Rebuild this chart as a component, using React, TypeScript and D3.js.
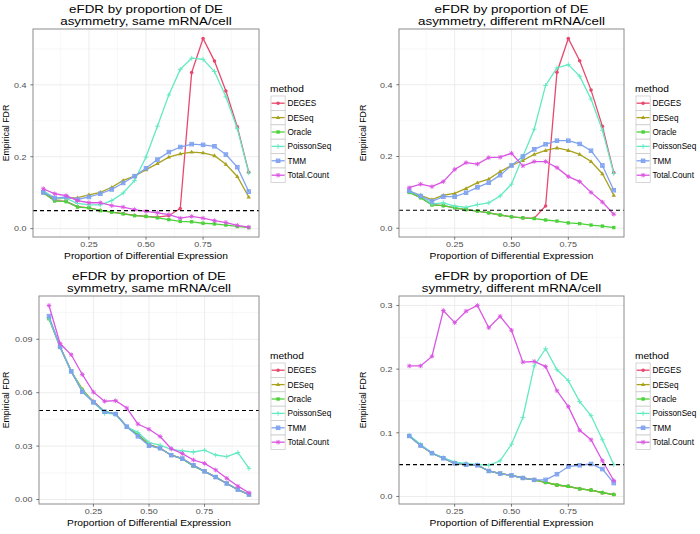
import React from "react";
import * as d3 from "d3";

const XS = [0.05, 0.1, 0.15, 0.2, 0.25, 0.3, 0.35, 0.4, 0.45, 0.5, 0.55, 0.6, 0.65, 0.7, 0.75, 0.8, 0.85, 0.9, 0.95];
const METHODS = ["DEGES", "DESeq", "Oracle", "PoissonSeq", "TMM", "Total.Count"];
const COLORS = ["#E8486E", "#A9A21F", "#4CD23A", "#62EAC2", "#7FA2F0", "#DA55E3"];
const SHAPES = ["circle", "triangle", "square", "plus", "squarecross", "asterisk"];
const X_TICKS = [0.25, 0.5, 0.75];
const X_MINOR = [0.125, 0.375, 0.625, 0.875];
const THRESHOLD = 0.05;

// Panel 1: asymmetry, same mRNA/cell
const p1_DEGES = [0.1, 0.078, 0.076, 0.061, 0.058, 0.051, 0.046, 0.042, 0.037, 0.034, 0.032, 0.036, 0.056, 0.434, 0.529, 0.466, 0.383, 0.283, 0.157];
const p1_DESeq = [0.103, 0.082, 0.085, 0.086, 0.094, 0.101, 0.115, 0.134, 0.146, 0.164, 0.181, 0.199, 0.208, 0.213, 0.211, 0.203, 0.179, 0.145, 0.088];
const p1_Oracle = [0.1, 0.077, 0.075, 0.06, 0.058, 0.05, 0.046, 0.041, 0.036, 0.034, 0.03, 0.025, 0.02, 0.019, 0.015, 0.013, 0.01, 0.006, 0.003];
const p1_PoissonSeq = [0.105, 0.085, 0.084, 0.07, 0.066, 0.066, 0.078, 0.099, 0.134, 0.199, 0.285, 0.372, 0.443, 0.474, 0.471, 0.437, 0.367, 0.278, 0.155];
const p1_TMM = [0.101, 0.085, 0.088, 0.081, 0.088, 0.097, 0.109, 0.127, 0.146, 0.168, 0.192, 0.213, 0.227, 0.235, 0.233, 0.229, 0.206, 0.171, 0.103];
const p1_Total = [0.111, 0.097, 0.092, 0.078, 0.072, 0.072, 0.064, 0.06, 0.053, 0.048, 0.044, 0.039, 0.029, 0.034, 0.029, 0.022, 0.017, 0.009, 0.004];

// Panel 2: asymmetry, different mRNA/cell
const p2_DEGES = [0.1, 0.086, 0.066, 0.063, 0.057, 0.052, 0.048, 0.043, 0.037, 0.032, 0.029, 0.028, 0.062, 0.435, 0.529, 0.467, 0.385, 0.284, 0.155];
const p2_DESeq = [0.103, 0.092, 0.08, 0.092, 0.097, 0.111, 0.127, 0.137, 0.158, 0.175, 0.189, 0.206, 0.217, 0.224, 0.217, 0.206, 0.186, 0.152, 0.092];
const p2_Oracle = [0.1, 0.085, 0.065, 0.063, 0.057, 0.052, 0.048, 0.043, 0.037, 0.032, 0.029, 0.027, 0.023, 0.02, 0.015, 0.013, 0.009, 0.006, 0.002];
const p2_PoissonSeq = [0.103, 0.09, 0.068, 0.071, 0.062, 0.058, 0.066, 0.071, 0.09, 0.123, 0.2, 0.276, 0.398, 0.447, 0.456, 0.424, 0.36, 0.273, 0.153];
const p2_TMM = [0.105, 0.09, 0.075, 0.088, 0.088, 0.099, 0.114, 0.127, 0.148, 0.175, 0.2, 0.22, 0.234, 0.244, 0.244, 0.235, 0.216, 0.175, 0.106];
const p2_Total = [0.113, 0.123, 0.116, 0.13, 0.164, 0.183, 0.179, 0.197, 0.198, 0.209, 0.174, 0.186, 0.186, 0.169, 0.144, 0.13, 0.1, 0.073, 0.039];

// Panel 3: symmetry, same mRNA/cell
const p3_DEGES = [0.102, 0.0857, 0.072, 0.0608, 0.0552, 0.0493, 0.048, 0.0409, 0.0365, 0.031, 0.0288, 0.0249, 0.023, 0.0192, 0.0158, 0.0126, 0.009, 0.0056, 0.0028];
const p3_DESeq = [0.102, 0.0857, 0.072, 0.062, 0.0546, 0.0493, 0.048, 0.0409, 0.0362, 0.0305, 0.0288, 0.0249, 0.023, 0.019, 0.0158, 0.0126, 0.009, 0.0056, 0.0028];
const p3_Oracle = [0.1015, 0.0857, 0.072, 0.0615, 0.0546, 0.0495, 0.048, 0.0409, 0.0362, 0.0305, 0.0288, 0.0249, 0.0228, 0.0188, 0.0158, 0.0126, 0.009, 0.0056, 0.0028];
const p3_PoissonSeq = [0.102, 0.0857, 0.072, 0.061, 0.0546, 0.0485, 0.048, 0.0409, 0.0377, 0.032, 0.0305, 0.0282, 0.0273, 0.0267, 0.0277, 0.025, 0.0241, 0.0264, 0.0175];
const p3_TMM = [0.103, 0.0857, 0.072, 0.0605, 0.0546, 0.0493, 0.048, 0.0409, 0.0355, 0.0302, 0.0288, 0.0249, 0.023, 0.0192, 0.0158, 0.0126, 0.009, 0.0056, 0.0028];
const p3_Total = [0.109, 0.0876, 0.0813, 0.0702, 0.0603, 0.0552, 0.0555, 0.0514, 0.0424, 0.0395, 0.0354, 0.0286, 0.0258, 0.0222, 0.0203, 0.0166, 0.0119, 0.0075, 0.0038];

// Panel 4: symmetry, different mRNA/cell
const p4_DEGES = [0.095, 0.08, 0.068, 0.06, 0.052, 0.05, 0.049, 0.04, 0.036, 0.033, 0.029, 0.026, 0.022, 0.018, 0.016, 0.012, 0.01, 0.006, 0.003];
const p4_DESeq = [0.095, 0.08, 0.068, 0.06, 0.052, 0.05, 0.049, 0.04, 0.036, 0.033, 0.029, 0.026, 0.022, 0.018, 0.016, 0.012, 0.01, 0.006, 0.003];
const p4_Oracle = [0.095, 0.08, 0.068, 0.06, 0.052, 0.05, 0.049, 0.04, 0.036, 0.033, 0.029, 0.026, 0.022, 0.018, 0.016, 0.012, 0.01, 0.006, 0.003];
const p4_PoissonSeq = [0.096, 0.082, 0.068, 0.061, 0.054, 0.052, 0.05, 0.049, 0.056, 0.082, 0.124, 0.205, 0.232, 0.199, 0.182, 0.149, 0.127, 0.089, 0.05];
const p4_TMM = [0.095, 0.08, 0.068, 0.06, 0.052, 0.05, 0.049, 0.04, 0.036, 0.033, 0.029, 0.026, 0.026, 0.035, 0.047, 0.049, 0.051, 0.043, 0.021];
const p4_Total = [0.205, 0.205, 0.22, 0.292, 0.273, 0.291, 0.3, 0.265, 0.283, 0.261, 0.211, 0.212, 0.204, 0.166, 0.141, 0.104, 0.089, 0.056, 0.025];

const P1_Y_TICKS = [0, 0.2, 0.4];
const P1_Y_MINOR = [0.1, 0.3, 0.5];
const P3_Y_TICKS = [0, 0.03, 0.06, 0.09];
const P3_Y_MINOR = [0.015, 0.045, 0.075, 0.105];
const P4_Y_TICKS = [0, 0.1, 0.2, 0.3];
const P4_Y_MINOR = [0.05, 0.15, 0.25];

const FONT = "'Liberation Sans', Arial, Helvetica, sans-serif";

function T({ x, y, size, anchor = "start", fill = "#000", sx = 1, rotate = 0, children }: any) {
  return (
    <text
      transform={`translate(${x},${y}) scale(${sx},1)${rotate ? ` rotate(${rotate})` : ""}`}
      fontSize={size}
      textAnchor={anchor}
      fill={fill}
    >
      {children}
    </text>
  );
}

type PanelProps = {
  title: string[];
  left: number; right: number; top: number; bottom: number;
  yTitleX: number; legendX: number;
  yTicks: number[]; yMinor: number[]; yFmt: string;
  series: number[][];
};

function Marker({ shape, x, y, color }: { shape: string; x: number; y: number; color: string }) {
  const r = 1.8;
  switch (shape) {
    case "circle":
      return <circle cx={x} cy={y} r={r} fill={color} />;
    case "triangle":
      return <path d={`M${x},${y - 2.3}L${x + 2.2},${y + 1.5}L${x - 2.2},${y + 1.5}Z`} fill={color} />;
    case "square":
      return <rect x={x - 1.7} y={y - 1.7} width={3.4} height={3.4} fill={color} />;
    case "plus":
      return <path d={`M${x - 2.4},${y}H${x + 2.4}M${x},${y - 2.4}V${y + 2.4}`} stroke={color} strokeWidth={0.9} />;
    case "squarecross":
      return (
        <g stroke={color} strokeWidth={0.9} fill="none">
          <rect x={x - 1.8} y={y - 1.8} width={3.6} height={3.6} fill={color} fillOpacity={0.6} />
          <path d={`M${x - 1.8},${y - 1.8}L${x + 1.8},${y + 1.8}M${x + 1.8},${y - 1.8}L${x - 1.8},${y + 1.8}`} />
        </g>
      );
    default:
      return (
        <path
          d={`M${x - 2.3},${y}H${x + 2.3}M${x},${y - 2.3}V${y + 2.3}M${x - 1.7},${y - 1.7}L${x + 1.7},${y + 1.7}M${x + 1.7},${y - 1.7}L${x - 1.7},${y + 1.7}`}
          stroke={color}
          strokeWidth={0.9}
        />
      );
  }
}

function Panel(p: PanelProps) {
  const x = d3.scaleLinear().domain([0.005, 0.995]).range([p.left, p.right]);
  const all = p.series.flat();
  const lo = d3.min(all) as number;
  const hi = d3.max(all) as number;
  const pad = (hi - lo) * 0.05;
  const y = d3.scaleLinear().domain([lo - pad, hi + pad]).range([p.bottom, p.top]);
  const line = d3.line<number>().x((_, i) => x(XS[i])).y((v) => y(v));
  const fmt = d3.format(p.yFmt);
  const cx = (p.left + p.right) / 2;
  const cy = (p.top + p.bottom) / 2;
  const rowH = 14.4;
  const keyW = 14.2;
  const legTop = p.top + 67;
  return (
    <g fontFamily={FONT}>
      <rect x={p.left} y={p.top} width={p.right - p.left} height={p.bottom - p.top} fill="#fff" />
      {X_MINOR.map((t) => (
        <line key={"xm" + t} x1={x(t)} x2={x(t)} y1={p.top} y2={p.bottom} stroke="#F4F4F4" strokeWidth={0.6} />
      ))}
      {p.yMinor.map((t) => (
        <line key={"ym" + t} y1={y(t)} y2={y(t)} x1={p.left} x2={p.right} stroke="#F4F4F4" strokeWidth={0.6} />
      ))}
      {X_TICKS.map((t) => (
        <line key={"xg" + t} x1={x(t)} x2={x(t)} y1={p.top} y2={p.bottom} stroke="#EBEBEB" strokeWidth={0.9} />
      ))}
      {p.yTicks.map((t) => (
        <line key={"yg" + t} y1={y(t)} y2={y(t)} x1={p.left} x2={p.right} stroke="#EBEBEB" strokeWidth={0.9} />
      ))}
      {p.series.map((s, k) => (
        <g key={METHODS[k]}>
          <path d={line(s) || ""} fill="none" stroke={COLORS[k]} strokeWidth={1.3} />
          {s.map((v, i) => (
            <Marker key={i} shape={SHAPES[k]} x={x(XS[i])} y={y(v)} color={COLORS[k]} />
          ))}
        </g>
      ))}
      <line x1={p.left} x2={p.right} y1={y(THRESHOLD)} y2={y(THRESHOLD)} stroke="#000" strokeWidth={1.1} strokeDasharray="4,3" />
      <rect x={p.left} y={p.top} width={p.right - p.left} height={p.bottom - p.top} fill="none" stroke="#8C8C8C" strokeWidth={1} />
      {X_TICKS.map((t) => (
        <g key={"xt" + t}>
          <line x1={x(t)} x2={x(t)} y1={p.bottom} y2={p.bottom + 2.7} stroke="#555" strokeWidth={0.8} />
          <T x={x(t)} y={p.bottom + 10} size={7.6} sx={1.18} anchor="middle" fill="#4D4D4D">
            {d3.format(".2f")(t)}
          </T>
        </g>
      ))}
      {p.yTicks.map((t) => (
        <g key={"yt" + t}>
          <line x1={p.left - 2.7} x2={p.left} y1={y(t)} y2={y(t)} stroke="#555" strokeWidth={0.8} />
          <T x={p.left - 6.5} y={y(t) + 2.8} size={7.6} sx={1.18} anchor="end" fill="#4D4D4D">
            {fmt(t)}
          </T>
        </g>
      ))}
      <T x={cx} y={p.bottom + 21.5} size={9.4} sx={1.09} anchor="middle">
        Proportion of Differential Expression
      </T>
      <T x={p.yTitleX} y={cy} size={8.8} sx={1.12} anchor="middle" rotate={-90}>
        Empirical FDR
      </T>
      <T x={cx} y={p.top - 16.5} size={10.8} sx={1.24} anchor="middle">
        {p.title[0]}
      </T>
      <T x={cx} y={p.top - 4.5} size={10.8} sx={1.24} anchor="middle">
        {p.title[1]}
      </T>
      <T x={p.legendX - 1} y={legTop - 4} size={9.4} sx={1.08}>
        method
      </T>
      {METHODS.map((m, k) => {
        const ry = legTop + k * rowH;
        return (
          <g key={"lg" + m}>
            <rect x={p.legendX} y={ry} width={keyW} height={rowH} fill="#fff" stroke="#CCCCCC" strokeWidth={0.8} />
            <line x1={p.legendX + 0.6} x2={p.legendX + keyW - 0.6} y1={ry + rowH / 2} y2={ry + rowH / 2} stroke={COLORS[k]} strokeWidth={1.3} />
            <Marker shape={SHAPES[k]} x={p.legendX + keyW / 2} y={ry + rowH / 2} color={COLORS[k]} />
            <T x={p.legendX + keyW + 2.3} y={ry + rowH / 2 + 2.9} size={8.2}>
              {m}
            </T>
          </g>
        );
      })}
    </g>
  );
}

export default function App() {
  return (
    <svg width={700} height={534} style={{ position: "absolute", left: 0, top: 0, background: "#fff" }}>
      <rect width={700} height={534} fill="#fff" />
      <Panel
        title={["eFDR by proportion of DE", "asymmetry, same mRNA/cell"]}
        left={33} right={259} top={29} bottom={237}
        yTitleX={8.5} legendX={271}
        yTicks={P1_Y_TICKS} yMinor={P1_Y_MINOR} yFmt=".1f"
        series={[p1_DEGES, p1_DESeq, p1_Oracle, p1_PoissonSeq, p1_TMM, p1_Total]}
      />
      <Panel
        title={["eFDR by proportion of DE", "asymmetry, different mRNA/cell"]}
        left={399} right={624} top={29} bottom={237}
        yTitleX={365.5} legendX={636}
        yTicks={P1_Y_TICKS} yMinor={P1_Y_MINOR} yFmt=".1f"
        series={[p2_DEGES, p2_DESeq, p2_Oracle, p2_PoissonSeq, p2_TMM, p2_Total]}
      />
      <Panel
        title={["eFDR by proportion of DE", "symmetry, same mRNA/cell"]}
        left={39} right={259} top={296} bottom={504}
        yTitleX={8.5} legendX={271}
        yTicks={P3_Y_TICKS} yMinor={P3_Y_MINOR} yFmt=".2f"
        series={[p3_DEGES, p3_DESeq, p3_Oracle, p3_PoissonSeq, p3_TMM, p3_Total]}
      />
      <Panel
        title={["eFDR by proportion of DE", "symmetry, different mRNA/cell"]}
        left={399} right={624} top={296} bottom={504}
        yTitleX={365.5} legendX={636}
        yTicks={P4_Y_TICKS} yMinor={P4_Y_MINOR} yFmt=".1f"
        series={[p4_DEGES, p4_DESeq, p4_Oracle, p4_PoissonSeq, p4_TMM, p4_Total]}
      />
    </svg>
  );
}
